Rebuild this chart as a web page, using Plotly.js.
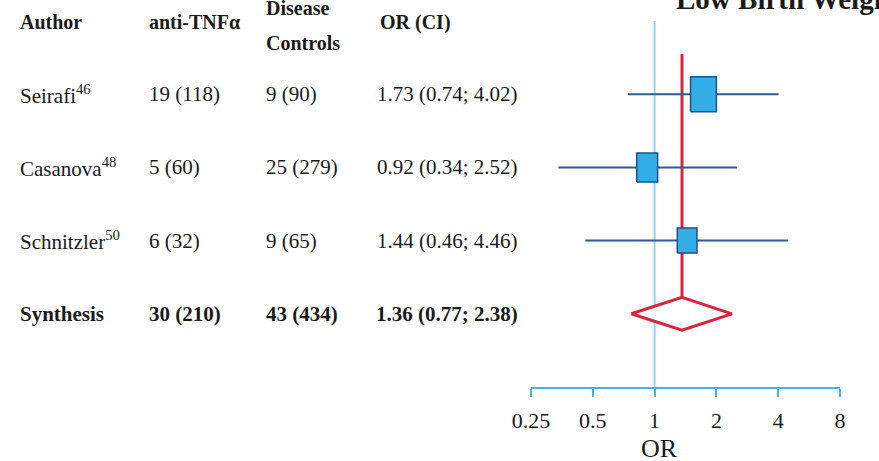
<!DOCTYPE html>
<html>
<head>
<meta charset="utf-8">
<script src="https://cdn.plot.ly/plotly-3.0.1.min.js"></script>
<style>html,body{margin:0;padding:0;background:#fff}#chart{width:879px;height:461px}</style>
</head>
<body>
<div id="chart"></div>
<script>
// ---- data ----
var authors = ['Seirafi<sup>46</sup>', 'Casanova<sup>48</sup>', 'Schnitzler<sup>50</sup>', 'Synthesis'];
var antiTNF = ['19 (118)', '5 (60)', '6 (32)', '30 (210)'];
var controls = ['9 (90)', '25 (279)', '9 (65)', '43 (434)'];
var orValues = [1.73, 0.92, 1.44, 1.36];
var ciLow = [0.74, 0.34, 0.46, 0.77];
var ciHigh = [4.02, 2.52, 4.46, 2.38];
var rowPos = [4, 3, 2, 1];
var tickValues = [0.25, 0.5, 1, 2, 4, 8];
var tickLabels = ['0.25', '0.5', '1', '2', '4', '8'];
var headers = ['Author', 'anti-TNFα', 'Disease', 'Controls', 'OR (CI)'];
var chartTitle = 'Low Birth Weight';
var axisLabel = 'OR';

// ---- styles ----
var FONT = 'Liberation Serif, Times New Roman, serif';
var TXT = '#1a1a1a';
var boxHalfW = [0.063, 0.051, 0.048];   // half width, log10 units
var boxHalfH = [0.239, 0.198, 0.171];   // half height, row units
var nStudies = 3;
var diamondHalf = 0.225;
var s = nStudies; // synthesis index

var ciX = [], ciY = [], boxX = [], boxY = [];
for (var i = 0; i < nStudies; i++) {
  ciX.push(ciLow[i], ciHigh[i], null);
  ciY.push(rowPos[i], rowPos[i], null);
  var a = orValues[i] / Math.pow(10, boxHalfW[i]);
  var b = orValues[i] * Math.pow(10, boxHalfW[i]);
  var y0 = rowPos[i] - boxHalfH[i], y1 = rowPos[i] + boxHalfH[i];
  boxX.push(a, b, b, a, a, null);
  boxY.push(y0, y0, y1, y1, y0, null);
}

var traces = [
  { // reference line at OR = 1
    x: [1, 1], y: [0, 5], mode: 'lines', type: 'scatter',
    line: {color: '#8fd5f2', width: 2}, hoverinfo: 'skip', cliponaxis: false
  },
  { // pooled estimate line
    x: [orValues[s], orValues[s]], y: [rowPos[s] + diamondHalf, 4.55], mode: 'lines', type: 'scatter',
    line: {color: '#d92340', width: 3}, hoverinfo: 'skip'
  },
  { // confidence intervals
    x: ciX, y: ciY, mode: 'lines', type: 'scatter',
    line: {color: '#2f5a92', width: 2}, connectgaps: false
  },
  { // study boxes
    x: boxX, y: boxY, mode: 'lines', type: 'scatter', fill: 'toself',
    fillcolor: '#33ade6', line: {color: '#1d4f8a', width: 1.5}, connectgaps: false
  },
  { // synthesis diamond
    x: [ciLow[s], orValues[s], ciHigh[s], orValues[s], ciLow[s]],
    y: [rowPos[s], rowPos[s] + diamondHalf, rowPos[s], rowPos[s] - diamondHalf, rowPos[s]],
    mode: 'lines', type: 'scatter', fill: 'toself', fillcolor: '#ffffff',
    line: {color: '#d92340', width: 3}
  }
];

var L = 531, R = 840, T = 21, B = 387;
function px(x) { return (x - L) / (R - L); }
function py(y) { return (B - y) / (B - T); }

var annotations = [];
function add(text, x, yv, opts) {
  var a = {text: text, xref: 'paper', x: px(x), showarrow: false,
           font: {family: FONT, size: 21, color: TXT}, xanchor: 'left', yanchor: 'middle'};
  if (typeof yv === 'object') { a.yref = 'y'; a.y = yv.row; } else { a.yref = 'paper'; a.y = py(yv); }
  for (var k in opts) a[k] = opts[k];
  annotations.push(a);
}
var colX = [18, 147, 264, 520];
add('<b>' + headers[0] + '</b>', colX[0], 22, {font: {family: FONT, size: 20, color: TXT}});
add('<b>' + headers[1] + '</b>', colX[1], 22, {font: {family: FONT, size: 20, color: TXT}});
add('<b>' + headers[2] + '</b>', colX[2], 8, {font: {family: FONT, size: 20, color: TXT}});
add('<b>' + headers[3] + '</b>', colX[2], 43, {font: {family: FONT, size: 20, color: TXT}});
add('<b>' + headers[4] + '</b>', 378, 22, {font: {family: FONT, size: 20, color: TXT}});
for (var r = 0; r < authors.length; r++) {
  var bold = (r === s);
  var w = function (t) { return bold ? '<b>' + t + '</b>' : t; };
  var ciText = orValues[r].toFixed(2) + ' (' + ciLow[r].toFixed(2) + '; ' + ciHigh[r].toFixed(2) + ')';
  add(w(authors[r]), colX[0], {row: rowPos[r]}, {});
  add(w(antiTNF[r]), colX[1], {row: rowPos[r]}, {});
  add(w(controls[r]), colX[2], {row: rowPos[r]}, {});
  add(w(ciText), colX[3], {row: rowPos[r]}, {xanchor: 'right'});
}
add('<b>' + chartTitle + '</b>', 674, -1, {font: {family: FONT, size: 29, color: TXT}});
add(axisLabel, 659, 448, {xanchor: 'center', font: {family: FONT, size: 26, color: TXT}});

var layout = {
  width: 879, height: 461,
  margin: {l: L, r: 879 - R, t: T, b: 461 - B, pad: 0},
  paper_bgcolor: '#ffffff', plot_bgcolor: '#ffffff',
  showlegend: false,
  xaxis: {
    type: 'log', range: [Math.log10(0.25), Math.log10(8)],
    tickvals: tickValues, ticktext: tickLabels,
    showline: true, linecolor: '#45b3e3', linewidth: 2,
    ticks: 'outside', ticklen: 8, tickwidth: 2, tickcolor: '#45b3e3',
    ticklabelstandoff: 5,
    showgrid: false, zeroline: false,
    tickfont: {family: FONT, size: 22, color: TXT}
  },
  yaxis: {range: [0, 5], visible: false, fixedrange: true},
  annotations: annotations
};

Plotly.newPlot('chart', traces, layout, {displayModeBar: false, staticPlot: true});
</script>
</body>
</html>
